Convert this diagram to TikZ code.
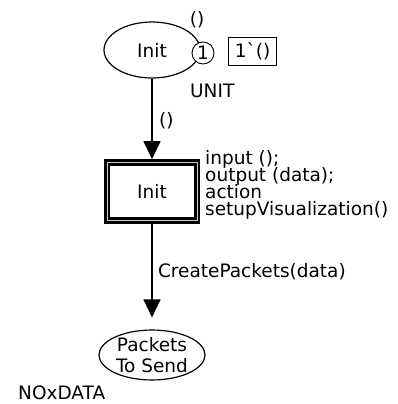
\documentclass[tikz,border=0pt]{standalone}
\usepackage{fontspec}
\setmainfont{DejaVu Sans}[Ligatures=TeXOff]
\usetikzlibrary{shapes.geometric, positioning, arrows.meta}
\newcommand{\inscrfont}{\fontsize{18.5pt}{17pt}\selectfont\lineskiplimit=-20pt\relax}
\tikzset{
    place/.style = {draw, ellipse, line width=1.2pt, inner sep=0pt, align=center},
    arc/.style = {draw, line width=1.4pt, -{Triangle[length=18pt,width=17pt]}},
    tokens/.style = {draw, circle, line width=0.9pt, fill=white, minimum size=22pt, inner sep=0pt},
    marking/.style = {draw, line width=1.1pt, minimum width=48pt, minimum height=28pt, inner sep=0pt},
    subst/.style = {draw, line width=3pt, double=gray!40, double distance=0.8pt,
        minimum width=90pt, minimum height=58pt, outer sep=3.4pt},
    inscr/.style = {inner sep=0pt},
}
\begin{document}
\begin{tikzpicture}[x=1pt, y=-1pt, font=\fontsize{18.5pt}{16pt}\selectfont]
        \useasboundingbox (0,0) rectangle (397,404);
        \node[place, minimum width=96pt, minimum height=56pt] (init) at (152,50) {Init};
        \node[tokens] (count) at (203,53) {1};
        \node[inscr] (initmark) at (197,20) {()};
        \node[marking] (marking) at (252.5,51.5) {1`()};
        \node[inscr, anchor=west] (unit) at (190,91) {UNIT};
        \node[subst] (sub) at (152,191.5) {Init};
        \node[inscr, anchor=north west, align=left, font=\inscrfont] (code) at (205,150.5)
            {input ();\\output (data);\\action\\setupVisualization()};
        \node[place, minimum width=106pt, minimum height=45pt,
            font=\fontsize{18.5pt}{21pt}\selectfont] (send) at (152,355) {Packets\\To Send};
        \node[inscr, anchor=west] (type) at (18,393) {NOxDATA};
        \draw[arc] (init) to node[right, pos=0.52, xshift=3pt] {()} (sub);
        \draw[arc, shorten >=12pt] (sub) to node[right, pos=0.45, xshift=2pt] {CreatePackets(data)} (send);
    \end{tikzpicture}
\end{document}
